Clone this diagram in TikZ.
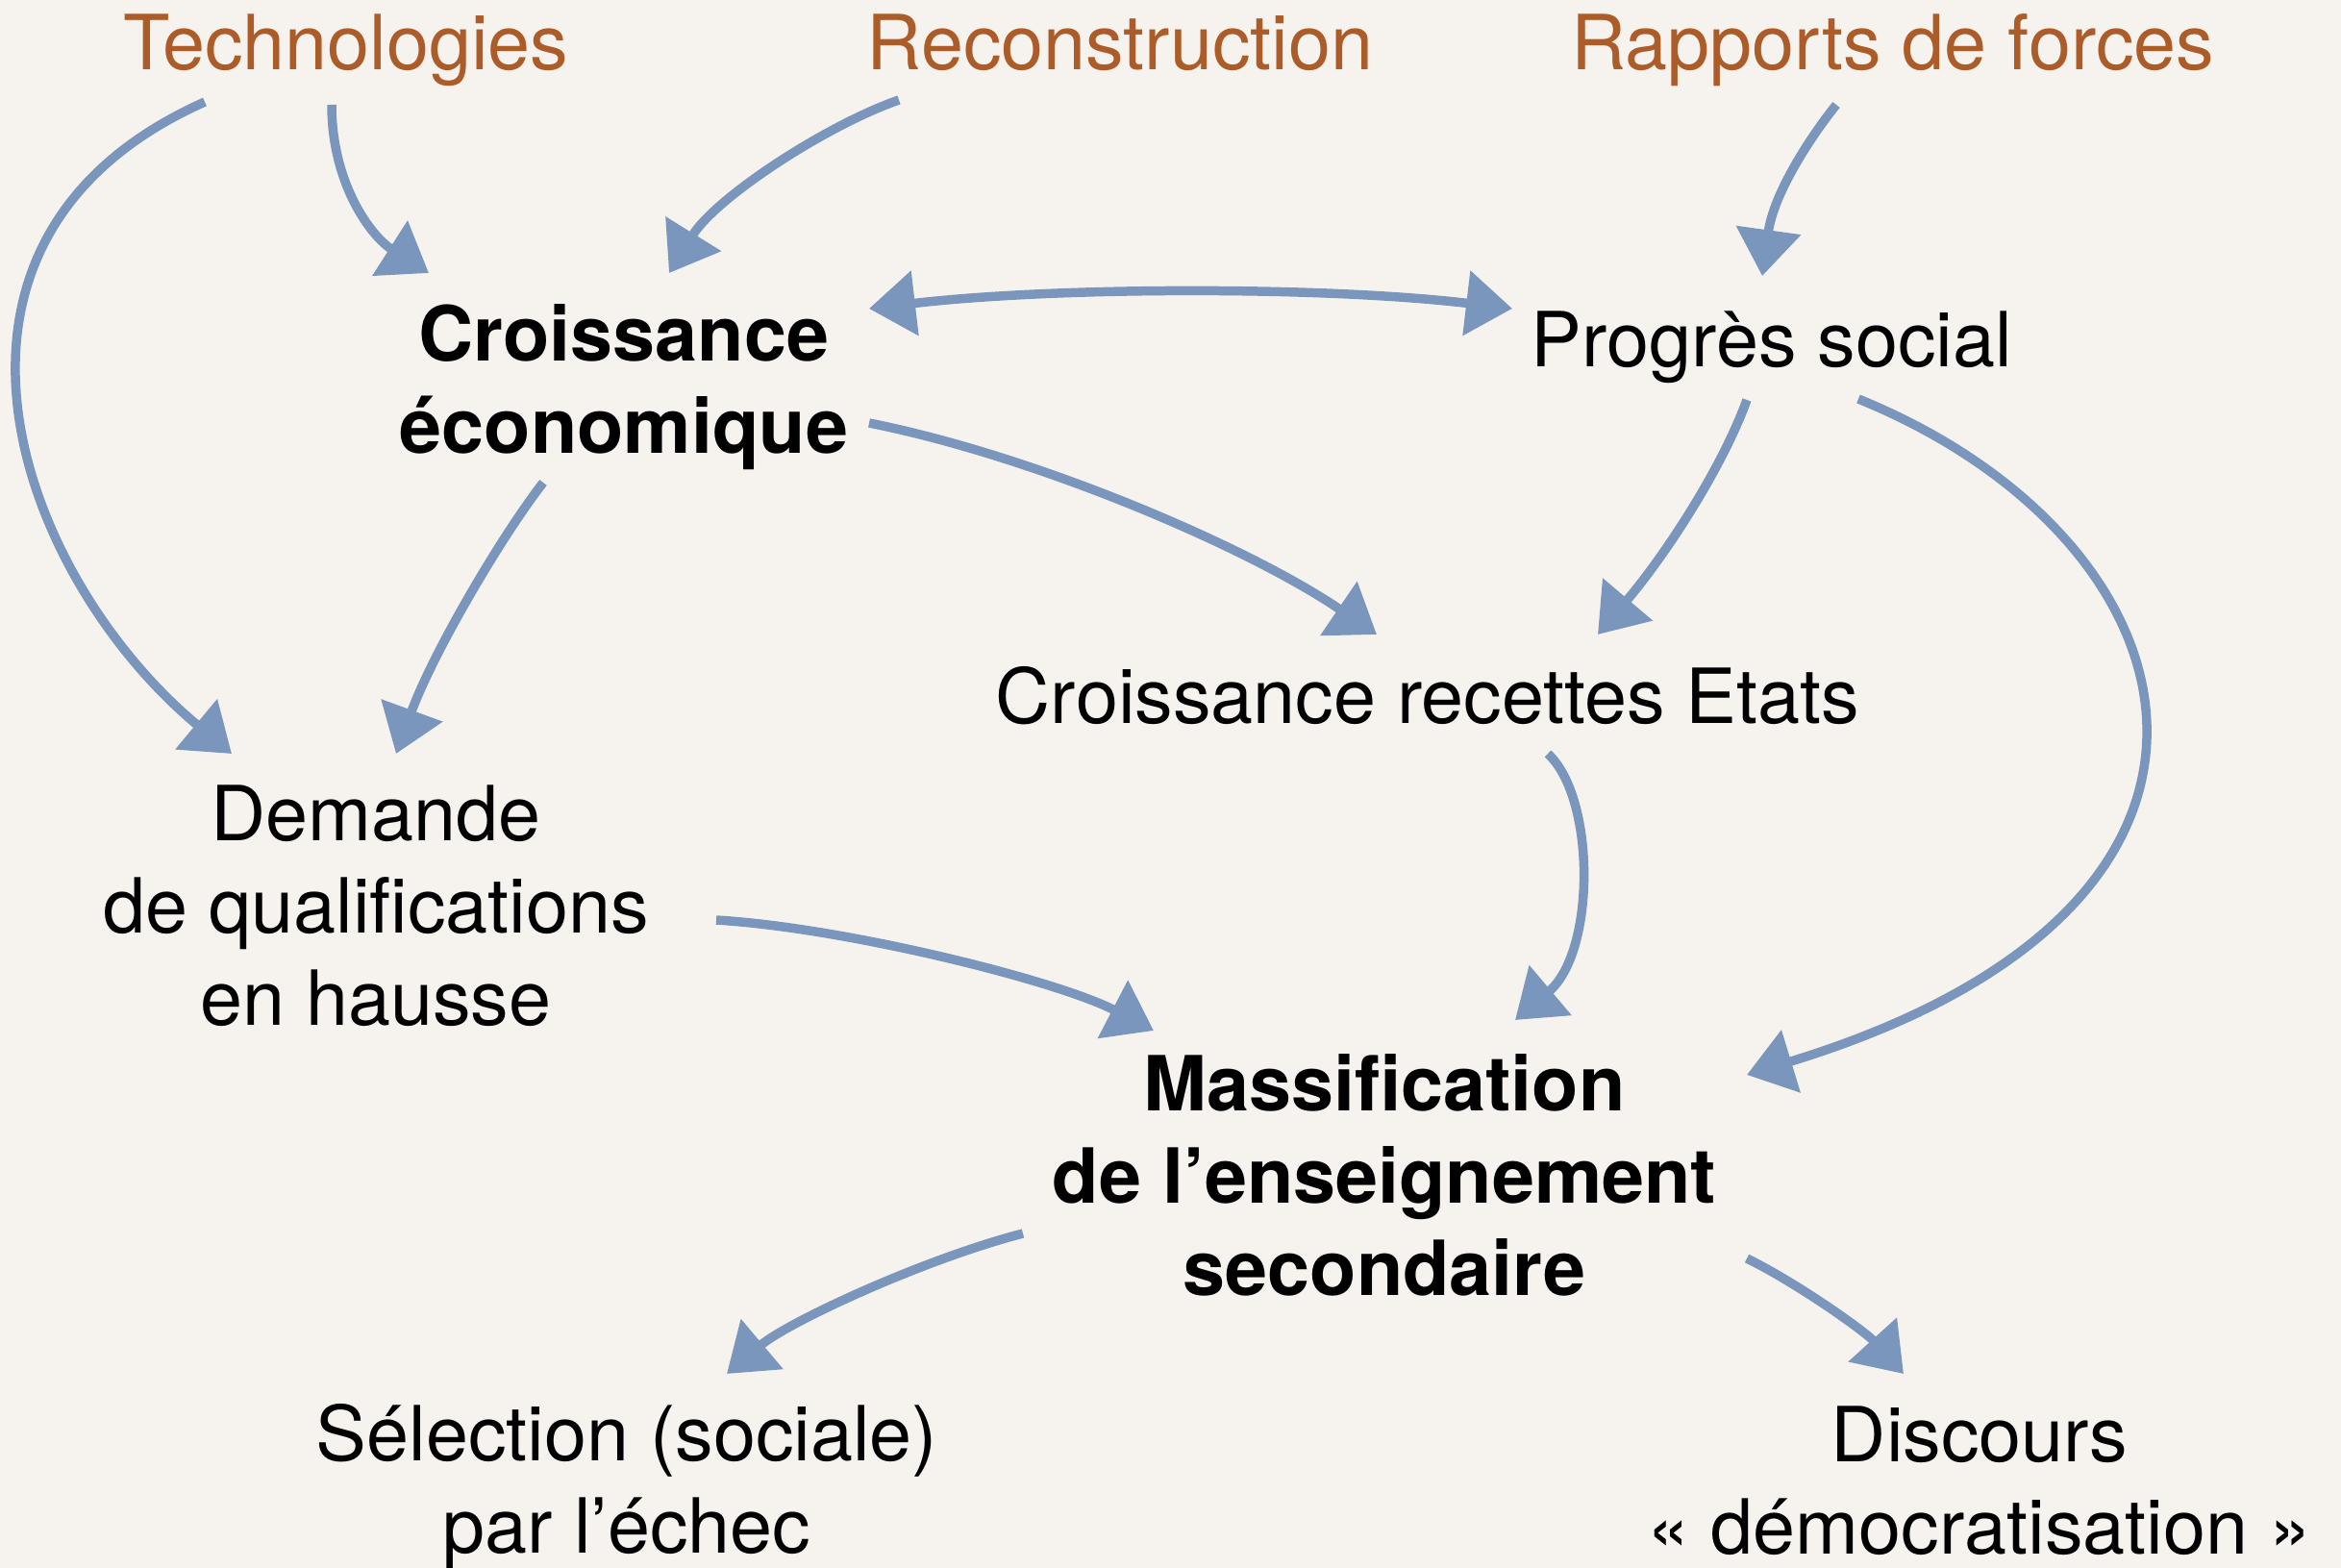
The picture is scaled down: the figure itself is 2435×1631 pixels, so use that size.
\documentclass[tikz,border=0pt]{standalone}
\usepackage{fontspec}
\setmainfont{TeX Gyre Heros}
\usetikzlibrary{arrows.meta}
\definecolor{paper}{HTML}{F6F3EF}
\definecolor{rust}{HTML}{AB5C28}
\definecolor{chalk}{HTML}{7A96BC}
\begin{document}
\begin{tikzpicture}[x=0.01cm,y=-0.01cm,
  label node/.style={font=\fontsize{22.5}{27.3}\selectfont,align=center,inner sep=0pt},
  cause node/.style={label node,text=rust},
  key node/.style={label node,font=\fontsize{22.5}{27.3}\selectfont\bfseries},
  link/.style={draw=chalk,line width=2.7pt,-{Triangle[length=0.48cm,width=0.66cm]}}]
  \fill[paper] (0,0) rectangle (2435,1631);
  \useasboundingbox (0,0) rectangle (2435,1631);

  \node[cause node,anchor=base] (tech) at (360,73) {Technologies};
  \node[cause node,anchor=base] (recon) at (1165,73) {Reconstruction};
  \node[cause node,anchor=base] (rapp) at (1969,73) {Rapports de forces};
  \node[key node] (crois) at (649,403) {Croissance\\économique};
  \node[label node,anchor=base] (prog) at (1843,382) {Progrès social};
  \node[label node,anchor=base] (recet) at (1485,753) {Croissance recettes Etats};
  \node[label node] (dem) at (391,942) {Demande\\de qualifications\\en hausse};
  \node[key node] (mass) at (1440,1222) {Massification\\de l’enseignement\\secondaire};
  \node[label node] (sel) at (652,1547) {Sélection (sociale)\\par l’échec};
  \node[label node] (disc) at (2059,1540) {Discours\\« démocratisation »};

\path[link]
  ([shift={(-147,33)}]tech.base) .. controls (-110,250) and (20,600) .. ([shift={(-150,-158)}]dem.center);
\path[link]
  ([shift={(-15,36)}]tech.base) .. controls (345,190) and (385,245) .. ([shift={(-203,-119)}]crois.center);
\path[link]
  ([shift={(-230,31)}]recon.base) .. controls (860,130) and (745,205) .. ([shift={(47,-119)}]crois.center);
\path[link]
  ([shift={(-59,36)}]rapp.base) .. controls (1885,140) and (1845,200) .. ([shift={(-10,-95)}]prog.base);
\path[link,{Triangle[length=0.48cm,width=0.66cm]}-{Triangle[length=0.48cm,width=0.66cm]}]
  ([shift={(255,-82)}]crois.center) .. controls (1100,298) and (1380,298) .. ([shift={(-270,-61)}]prog.base);
\path[link]
  ([shift={(255,37)}]crois.center) .. controls (1080,475) and (1300,570) .. ([shift={(-53,-93)}]recet.base);
\path[link]
  ([shift={(-26,34)}]prog.base) .. controls (1790,490) and (1730,580) .. ([shift={(177,-93)}]recet.base);
\path[link]
  ([shift={(-84,99)}]crois.center) .. controls (520,560) and (450,680) .. ([shift={(21,-158)}]dem.center);
\path[link]
  ([shift={(90,33)}]prog.base) .. controls (2290,560) and (2400,940) .. ([shift={(377,-104)}]mass.center);
\path[link]
  ([shift={(125,31)}]recet.base) .. controls (1660,830) and (1660,990) .. ([shift={(136,-161)}]mass.center);
\path[link]
  ([shift={(354,15)}]dem.center) .. controls (880,965) and (1100,1020) .. ([shift={(-240,-150)}]mass.center);
\path[link]
  ([shift={(-376,61)}]mass.center) .. controls (960,1310) and (820,1375) .. ([shift={(104,-118)}]sel.center);
\path[link]
  ([shift={(377,87)}]mass.center) .. controls (1870,1335) and (1940,1385) .. ([shift={(-79,-111)}]disc.center);
\end{tikzpicture}
\end{document}
